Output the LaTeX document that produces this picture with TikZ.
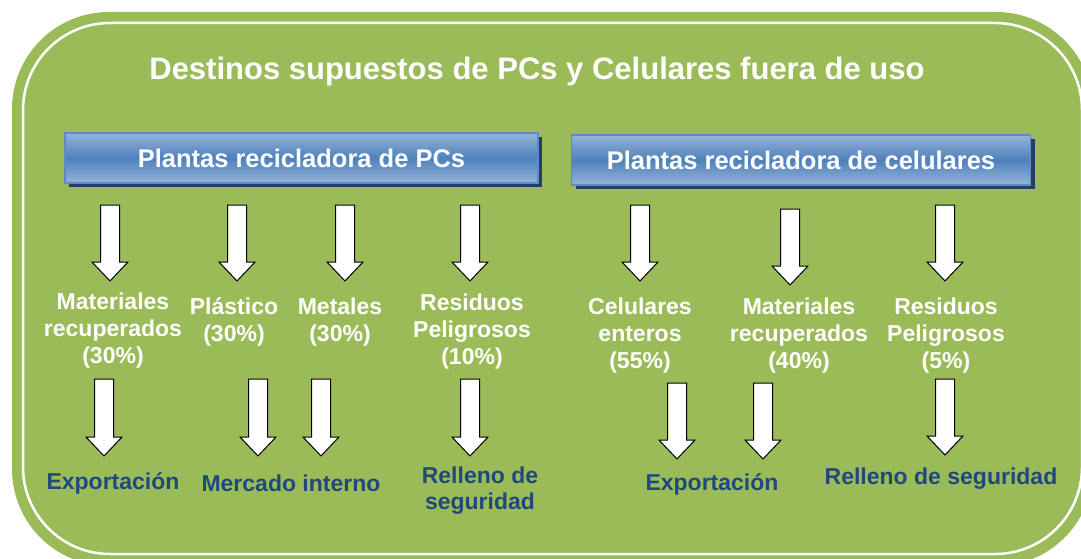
\documentclass[tikz,border=0pt]{standalone}
\usepackage{fontspec}
\setmainfont{Liberation Sans}
\usetikzlibrary{shadows}
\definecolor{bggreen}{HTML}{9BBB59}
\definecolor{boxblue}{HTML}{4F81BD}
\definecolor{boxlight}{HTML}{95B3D7}
\definecolor{boxedge}{HTML}{5B8BC9}
\definecolor{shadowblue}{HTML}{243F60}
\definecolor{labelblue}{HTML}{1F497D}
\newcommand{\blockarr}[3]{%
  \draw[barrow] (#1-9.5,#2) -- (#1+9.5,#2) -- (#1+9.5,#3-19) -- (#1+18,#3-19)
    -- (#1,#3) -- (#1-18,#3-19) -- (#1-9.5,#3-19) -- cycle;}
\begin{document}
\begin{tikzpicture}[x=1pt,y=-1pt,
  titletext/.style={text=white,font=\fontsize{31}{35}\selectfont\bfseries,inner sep=0pt},
  plantbox/.style={draw=boxedge, line width=1.2pt, top color=boxlight, bottom color=boxlight, middle color=boxblue,
    text=white, font=\fontsize{25.5}{30}\selectfont\bfseries, minimum height=50pt, inner sep=0pt,
    general shadow={fill=shadowblue, shadow xshift=4pt, shadow yshift=-4pt}},
  wlabel/.style={text=white, align=center, font=\fontsize{23}{27}\selectfont\bfseries, inner sep=0pt},
  blabel/.style={text=labelblue, align=center, font=\fontsize{23}{26}\selectfont\bfseries, inner sep=0pt},
  barrow/.style={draw=black, fill=white, line width=1pt, line join=miter}]
\useasboundingbox (0,0) rectangle (1081,559);
\clip (0,0) rectangle (1081,559);
\fill[white] (0,0) rectangle (1081,559);
% background panel
\fill[bggreen, rounded corners=97pt] (12,12) rectangle (1093,566);
\draw[white, line width=2.5pt, rounded corners=87pt] (23,23) rectangle (1082,554);
% title
\node[titletext] (title) at (537,71) {Destinos supuestos de PCs y Celulares fuera de uso};
% plant boxes
\node[plantbox, minimum width=473pt] (pcs) at (301.5,158) {Plantas recicladora de PCs};
\node[plantbox, minimum width=459pt] (cel) at (801,160) {Plantas recicladora de celulares};
% top arrows
\blockarr{110}{205}{281}
\blockarr{237}{205}{281}
\blockarr{345}{205}{281}
\blockarr{470}{205}{281}
\blockarr{640}{205}{281}
\blockarr{790}{209}{285}
\blockarr{945}{205}{281}
% white labels
\node[wlabel] (mat1) at (113,331) {Materiales\\recuperados\\(30\%)};
\node[wlabel] (plas) at (234,322) {Plástico\\(30\%)};
\node[wlabel] (meta) at (340,322) {Metales\\(30\%)};
\node[wlabel] (res1) at (472,332) {Residuos\\Peligrosos\\(10\%)};
\node[wlabel] (celu) at (640,336) {Celulares\\enteros\\(55\%)};
\node[wlabel] (mat2) at (799,336) {Materiales\\recuperados\\(40\%)};
\node[wlabel] (res2) at (946,336) {Residuos\\Peligrosos\\(5\%)};
% bottom arrows
\blockarr{104}{379}{456}
\blockarr{258}{379}{456}
\blockarr{321}{379}{456}
\blockarr{470}{379}{456}
\blockarr{677}{383}{459}
\blockarr{763}{383}{459}
\blockarr{945}{379}{455}
% blue labels
\node[blabel] (exp1) at (113,483) {Exportación};
\node[blabel] (merc) at (291,483) {Mercado interno};
\node[blabel] (rel1) at (480,491) {Relleno de\\seguridad};
\node[blabel] (exp2) at (712,484) {Exportación};
\node[blabel] (rel2) at (941,479) {Relleno de seguridad};
\end{tikzpicture}
\end{document}
